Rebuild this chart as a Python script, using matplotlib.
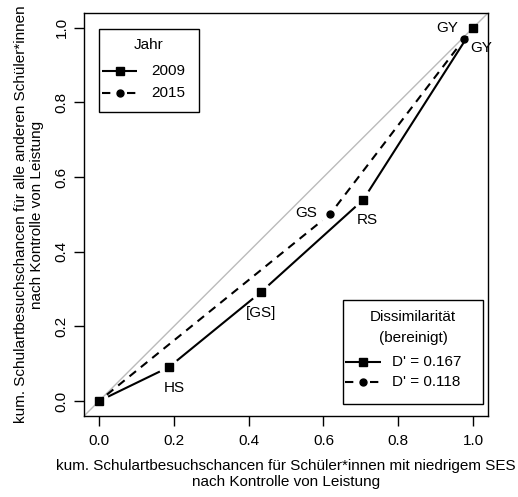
import numpy as np
import matplotlib
matplotlib.use("Agg")
import matplotlib.pyplot as plt
from matplotlib.lines import Line2D
from matplotlib.patches import Rectangle

plt.rcParams['font.family'] = ['Liberation Sans', 'DejaVu Sans']
plt.rcParams['font.size'] = 11

# ── Data ──────────────────────────────────────────────────────────
x_2009 = [0.0, 0.187, 0.433, 0.706, 1.0]
y_2009 = [0.0, 0.091, 0.292, 0.539, 1.0]
lab_2009 = ["", "HS", "[GS]", "RS", "GY"]

x_2015 = [0.0, 0.618, 0.976]
y_2015 = [0.0, 0.501, 0.970]
lab_2015 = ["", "GS", "GY"]

years = ["2009", "2015"]
d_vals = [0.167, 0.118]
ticks = [0.0, 0.2, 0.4, 0.6, 0.8, 1.0]

W, H = 518, 497
DASH = (0, (4, 3))


def px(x, y):
    """figure pixels (from top-left) -> figure fraction"""
    return x / W, 1 - y / H


def plot_type_b(ax, xs, ys, gap=0.027, **kw):
    """R-style type='b': line segments with a gap around each point."""
    for i in range(len(xs) - 1):
        x0, y0, x1, y1 = xs[i], ys[i], xs[i + 1], ys[i + 1]
        d = np.hypot(x1 - x0, y1 - y0)
        if d <= 2 * gap:
            continue
        ux, uy = (x1 - x0) / d, (y1 - y0) / d
        ax.plot([x0 + ux * gap, x1 - ux * gap], [y0 + uy * gap, y1 - uy * gap], **kw)


def legend_box(fig, box, title_rows, labels, rows_y, x_line, x_text):
    """Hand-drawn R-style legend (box in pixels: left, top, right, bottom)."""
    l, t, r, b = box
    x0, y0 = px(l, b)
    x1, y1 = px(r, t)
    fig.add_artist(Rectangle((x0, y0), x1 - x0, y1 - y0, transform=fig.transFigure,
                             facecolor='white', edgecolor='black', lw=1.0, zorder=5))
    cx = (l + r) / 2
    for txt, ty in title_rows:
        fig.text(*px(cx, ty), txt, ha='center', va='center', zorder=6)
    styles = [dict(ls='-', marker='s', ms=5.5, gap=4),
              dict(ls=DASH, marker='o', ms=5, gap=7)]
    for lab, ry, st in zip(labels, rows_y, styles):
        xa, xb = x_line
        xm = (xa + xb) / 2
        for s0, s1 in [(xa, xm - st['gap']), (xm + st['gap'], xb)]:
            p0, p1 = px(s0, ry), px(s1, ry)
            fig.add_artist(Line2D([p0[0], p1[0]], [p0[1], p1[1]], transform=fig.transFigure,
                                  color='black', lw=1.5, linestyle=st['ls'],
                                  solid_capstyle='butt', dash_capstyle='butt', zorder=6))
        fig.add_artist(Line2D([px(xm, ry)[0]], [px(xm, ry)[1]], transform=fig.transFigure,
                              color='black', marker=st['marker'], ms=st['ms'],
                              linestyle='none', zorder=6))
        fig.text(*px(x_text, ry), lab, ha='left', va='center', zorder=6)


fig = plt.figure(figsize=(W / 100, H / 100), dpi=100)
ax = fig.add_axes([0.1622, 0.163, 0.780, 0.811])
ax.set_xlim(-0.04, 1.04)
ax.set_ylim(-0.04, 1.04)

# diagonal of equality
ax.plot([-0.04, 1.04], [-0.04, 1.04], color='#bbbbbb', lw=1.0, zorder=1)

plot_type_b(ax, x_2009, y_2009, color='black', lw=1.5, solid_capstyle='butt', zorder=2)
plot_type_b(ax, x_2015, y_2015, color='black', lw=1.5, linestyle=DASH,
            dash_capstyle='butt', zorder=2)
ax.plot(x_2009, y_2009, 's', color='black', ms=5.5, zorder=3, linestyle='none')
ax.plot(x_2015, y_2015, 'o', color='black', ms=5, zorder=3, linestyle='none')

# point labels
ax.text(x_2009[1] + 0.015, y_2009[1] - 0.055, lab_2009[1], ha='center', va='center')
ax.text(x_2009[2] + 0.0, y_2009[2] - 0.055, lab_2009[2], ha='center', va='center')
ax.text(x_2009[3] + 0.01, y_2009[3] - 0.055, lab_2009[3], ha='center', va='center')
ax.text(x_2009[4] - 0.068, y_2009[4], lab_2009[4], ha='center', va='center')
ax.text(x_2015[1] - 0.065, y_2015[1] + 0.003, lab_2015[1], ha='center', va='center')
ax.text(x_2015[2] + 0.045, y_2015[2] - 0.025, lab_2015[2], ha='center', va='center')

ax.set_xticks(ticks)
ax.set_yticks(ticks)
ax.set_xticklabels([f"{t:.1f}" for t in ticks])
ax.set_yticklabels([f"{t:.1f}" for t in ticks], rotation=90, va='center')
ax.tick_params(direction='out', length=7, width=1, pad=6)
ax.tick_params(axis='y', pad=4)
for s in ax.spines.values():
    s.set_linewidth(1.0)

ax.set_xlabel("kum. Schulartbesuchschancen für Schüler*innen mit niedrigem SES\n"
              "nach Kontrolle von Leistung", labelpad=8, linespacing=1.15)
ax.set_ylabel("kum. Schulartbesuchschancen für alle anderen Schüler*innen\n"
              "nach Kontrolle von Leistung", labelpad=8, linespacing=1.15)

# ── Legends ───────────────────────────────────────────────────────
legend_box(fig, (99, 29, 199, 112), [("Jahr", 45)], years, [71, 93],
           (102, 137), 151)
legend_box(fig, (343, 300, 483, 404),
           [("Dissimilarität", 317), ("(bereinigt)", 338)],
           [f"D' = {d:.3f}" for d in d_vals], [362, 382], (345, 381), 392)

fig.savefig("out.png", dpi=100)
